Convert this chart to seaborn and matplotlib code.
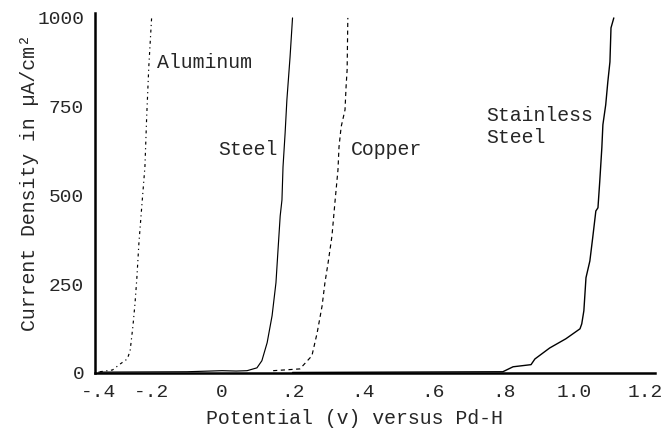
import matplotlib
matplotlib.use("Agg")
import matplotlib.pyplot as plt
import seaborn as sns
import pandas as pd

# ---- data ----
al_x = [-0.347, -0.311, -0.289, -0.269, -0.261, -0.253, -0.247, -0.242, -0.236,
        -0.228, -0.219, -0.214, -0.208, -0.200]
al_y = [3, 8, 25, 39, 62, 132, 197, 265, 366, 468, 580, 721, 862, 1000]

steel_x = [-0.350, -0.100, 0.000, 0.040, 0.071, 0.099, 0.113, 0.128, 0.142, 0.153,
           0.159, 0.165, 0.170, 0.173, 0.179, 0.184, 0.193, 0.200]
steel_y = [2, 3, 6, 5, 6, 14, 34, 85, 161, 254, 349, 442, 487, 580, 676, 769, 890, 1000]

cu_x = [0.145, 0.221, 0.255, 0.270, 0.284, 0.292, 0.301, 0.312, 0.321, 0.329,
        0.332, 0.338, 0.349, 0.352, 0.355, 0.357]
cu_y = [6, 11, 48, 113, 189, 254, 310, 386, 487, 572, 637, 693, 741, 806, 854, 1000]

ss_x = [0.200, 0.797, 0.826, 0.877, 0.888, 0.930, 0.976, 1.016, 1.021, 1.027, 1.033,
        1.044, 1.052, 1.061, 1.067, 1.072, 1.078, 1.081, 1.089, 1.095, 1.101, 1.104, 1.112]
ss_y = [1, 3, 17, 23, 39, 70, 96, 124, 138, 175, 268, 315, 380, 456, 465, 538, 634,
        699, 755, 820, 876, 972, 1000]

x_ticks = [-0.350, -0.2, 0.0, 0.2, 0.4, 0.6, 0.8, 1.0, 1.2]
x_tick_labels = ["-.4", "-.2", "0", ".2", ".4", ".6", ".8", "1.0", "1.2"]
y_ticks = [0, 250, 500, 750, 1000]

labels = ["Aluminum", "Steel", "Copper", "Stainless\nSteel"]
label_pos = [(-0.184, 873), (-0.011, 628), (0.366, 628), (0.749, 694)]

# ---- figure ----
sns.set_style("white")
plt.rcParams["font.family"] = ["Liberation Mono", "DejaVu Sans"]

fig = plt.figure(figsize=(6.66, 4.32), dpi=100)
ax = fig.add_axes([0.143, 0.137, 0.840, 0.833])

series = [
    (al_x, al_y, (0, (2.5, 3, 1, 3)), 0.85),
    (steel_x, steel_y, "-", 0.85),
    (cu_x, cu_y, (0, (3.5, 3)), 0.85),
    (ss_x, ss_y, "-", 1.0),
]
for xs, ys, ls, lw in series:
    df = pd.DataFrame({"x": xs, "y": ys})
    sns.lineplot(data=df, x="x", y="y", ax=ax, sort=False, estimator=None,
                 color="black", linestyle=ls, linewidth=lw)

ax.set_xlim(-0.360, 1.228)
ax.set_ylim(0, 1014)
ax.set_xticks(x_ticks)
ax.set_xticklabels(x_tick_labels)
ax.set_yticks(y_ticks)

for s in ["top", "right"]:
    ax.spines[s].set_visible(False)
for s in ["left", "bottom"]:
    ax.spines[s].set_linewidth(1.8)
    ax.spines[s].set_color("black")

ax.tick_params(axis="y", direction="inout", length=10, width=1.3, labelsize=14, pad=3)
ax.tick_params(axis="x", direction="out", length=6, width=1.3, labelsize=14, pad=2)

ax.set_xlabel("Potential (v) versus Pd-H", fontsize=14.3)
ax.xaxis.set_label_coords(0.464, -0.10)
ax.set_ylabel("Current Density in µA/cm²", fontsize=14.3)
ax.yaxis.set_label_coords(-0.10, 0.53)

for txt, (tx, ty) in zip(labels, label_pos):
    ax.text(tx, ty, txt, fontsize=14.3, ha="left", va="center", linespacing=1.15)

fig.savefig("out.png", dpi=100)
